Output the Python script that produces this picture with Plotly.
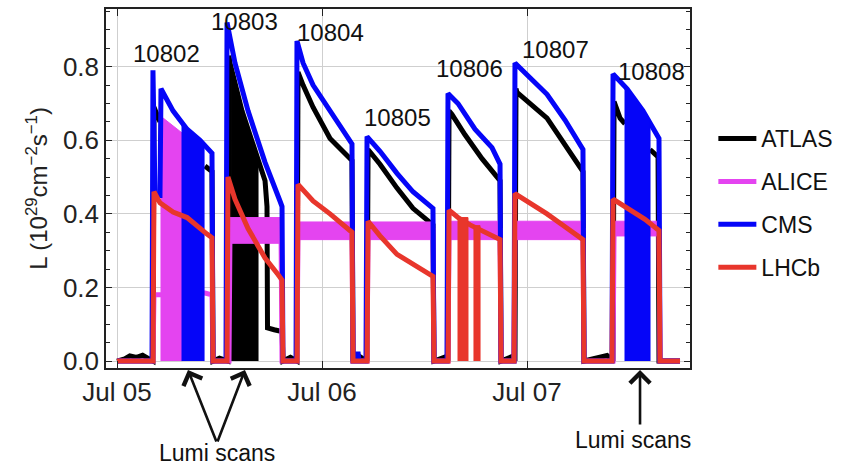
import pandas as pd
import plotly.graph_objects as go

# Time base: hours after 2025-07-05 00:00
T0 = pd.Timestamp("2025-07-05 00:00")

# ---- ATLAS ----  (None where the trace is hidden behind a scan block)
ATLAS_H = [0.0, 0.9, 1.5, 2.3, 3.0, 3.7, 4.21,
           4.33, 5.03, 7.00, 10.30, 10.54, 11.12, 11.24,
           12.0, 12.99,
           13.11, 13.23, 14.63, 16.16, 16.51, 17.33, 17.56, 17.62, 18.40, 19.32, 19.43,
           20.30, 21.07,
           21.19, 21.78, 22.95, 24.94, 27.28, 27.51, 27.63,
           28.21, 29.27,
           29.39, 30.79, 32.78, 34.65, 36.64, 36.99, 37.11,
           38.52, 38.75,
           38.87, 39.22, 40.74, 42.73, 44.25, 44.84, 44.96,
           46.24, 46.59,
           46.71, 46.83, 50.34, 52.45, 54.55, 54.67,
           57.37, 58.07,
           58.19, 58.89, 59.47, 61.00, 62.40, 62.99, 63.34, 63.45, 65.91]
ATLAS_L = [0.0, 0.006, 0.014, 0.01, 0.016, 0.008, 0.0,
           0.69, 0.65, None, 0.53, 0.525, 0.515, 0.0,
           0.008, 0.0,
           0.83, 0.81, 0.68, 0.57, 0.545, 0.49, 0.42, 0.09, 0.085, 0.08, 0.0,
           0.01, 0.0,
           0.785, 0.75, 0.69, 0.605, 0.55, 0.545, 0.0,
           0.015, 0.0,
           0.575, 0.535, 0.47, 0.415, 0.373, 0.37, 0.0,
           0.012, 0.0,
           0.68, 0.67, 0.615, 0.55, 0.51, 0.49, 0.0,
           0.012, 0.0,
           0.74, 0.73, 0.66, 0.585, 0.515, 0.0,
           0.015, 0.0,
           0.705, 0.66, 0.645, None, 0.575, 0.56, 0.555, 0.0, 0.0]
# ATLAS van der Meer scan (fill 10803)
ATLAS_SCAN_H = [13.35, 14.63, 16.16, 16.51]
ATLAS_SCAN_TOP = [0.80, 0.68, 0.57, 0.545]

# ---- ALICE ----
ALICE_H = [0.0, 4.21, 4.33, 5.15, 8.00, 10.19, 10.30, 11.12, 11.24,
           13.11, 13.23, 19.20, 19.32,
           21.07, 21.19, 27.51, 27.63,
           29.27, 29.39, 36.99, 37.11,
           38.75, 38.87, 44.84, 44.96,
           46.48, 46.59, 54.55, 54.67,
           58.07, 58.19, 63.45, 63.57, 65.91]
ALICE_L = [0.0, 0.0, 0.18, 0.18, None, 0.185, 0.185, 0.18, 0.0,
           0.0, 0.355, 0.355, 0.0,
           0.0, 0.355, 0.355, 0.0,
           0.0, 0.355, 0.355, 0.0,
           0.0, 0.355, 0.355, 0.0,
           0.0, 0.355, 0.355, 0.0,
           0.0, 0.36, 0.36, 0.0, 0.0]
ALICE_SCAN_H = [5.15, 7.61]
ALICE_SCAN_TOP = [0.665, 0.62]
# spread of the ALICE readings during each fill
ALICE_BAND_START = [13.23, 21.19, 29.39, 38.87, 46.59, 58.19]
ALICE_BAND_END = [19.20, 27.51, 36.99, 44.84, 54.55, 63.45]
ALICE_BAND_LO = [0.32, 0.33, 0.33, 0.33, 0.33, 0.34]
ALICE_BAND_HI = [0.39, 0.378, 0.378, 0.38, 0.38, 0.38]

# ---- CMS ----
CMS_H = [0.0, 4.10, 4.21, 4.45, 5.03, 5.15, 6.56, 8.20, 9.72, 11.12, 11.24,
         12.76, 12.88, 13.81, 15.34, 17.33, 19.08, 19.32, 19.43,
         20.96, 21.07, 21.78, 22.95, 24.94, 27.51, 27.63,
         28.10, 28.21, 28.33, 29.15, 29.27, 30.79, 32.78, 34.65, 36.99, 37.11,
         38.63, 38.75, 39.92, 41.91, 43.90, 44.84, 44.96,
         46.48, 46.59, 48.35, 50.34, 52.45, 54.55, 54.67,
         57.95, 58.07, 59.71, 61.58, 63.45, 63.57, 65.91]
CMS_L = [0.0, 0.0, 0.79, 0.45, 0.45, 0.74, 0.68, 0.63, 0.60, 0.565, 0.0,
         0.0, 0.92, 0.81, 0.68, 0.54, 0.435, 0.42, 0.0,
         0.0, 0.87, 0.81, 0.75, 0.68, 0.59, 0.0,
         0.0, 0.025, 0.0, 0.0, 0.61, 0.57, 0.51, 0.46, 0.415, 0.0,
         0.0, 0.727, 0.70, 0.63, 0.58, 0.535, 0.0,
         0.0, 0.81, 0.77, 0.725, 0.655, 0.575, 0.0,
         0.0, 0.78, 0.74, 0.68, 0.605, 0.0, 0.0]
CMS_SCAN1_H = [7.61, 8.20, 9.72, 10.19]
CMS_SCAN1_TOP = [0.645, 0.63, 0.60, 0.59]
CMS_SCAN2_H = [59.47, 59.71, 61.58, 62.40]
CMS_SCAN2_TOP = [0.745, 0.74, 0.68, 0.655]

# ---- LHCb ----
LHCB_H = [0.0, 4.21, 4.33, 5.03, 6.56, 8.20, 10.54, 11.12, 11.24,
          12.88, 12.99, 13.81, 15.34, 17.33, 18.85, 19.32, 19.43,
          21.07, 21.19, 22.95, 24.94, 27.28, 27.51, 27.63,
          29.27, 29.39, 30.79, 32.78, 34.65, 36.99, 37.11,
          38.75, 38.87, 39.92, 41.33, 43.08, 44.84, 44.96,
          46.48, 46.59, 48.35, 50.34, 52.45, 54.55, 54.67,
          57.95, 58.07, 60.06, 61.81, 63.45, 63.57, 65.91]
LHCB_L = [0.0, 0.0, 0.46, 0.43, 0.405, 0.39, 0.345, 0.335, 0.0,
          0.0, 0.50, 0.44, 0.36, 0.28, 0.235, 0.22, 0.0,
          0.0, 0.48, 0.435, 0.40, 0.355, 0.35, 0.0,
          0.0, 0.38, 0.34, 0.29, 0.265, 0.23, 0.0,
          0.0, 0.41, 0.39, 0.37, 0.35, 0.33, 0.0,
          0.0, 0.455, 0.43, 0.40, 0.365, 0.33, 0.0,
          0.0, 0.44, 0.41, 0.385, 0.355, 0.0, 0.0]
# LHCb dropouts during fill 10806
LHCB_DROP_START = [39.92, 41.79]
LHCB_DROP_END = [41.09, 42.50]
LHCB_DROP_TOP = [0.39, 0.368]

# Fill numbers and where they are written
FILLS = ["10802", "10803", "10804", "10805", "10806", "10807", "10808"]
FILL_LABEL_H = [5.85, 14.87, 24.94, 32.78, 41.21, 51.39, 62.63]
FILL_LABEL_L = [0.835, 0.922, 0.892, 0.662, 0.795, 0.846, 0.786]

# Luminosity scans pointed at below the axis
SCAN_ARROW_H = [8.31, 14.98, 61.23]

COL = {"ATLAS": "#000000", "ALICE": "#E444F0", "CMS": "#0505F8", "LHCb": "#E8362C"}
LW = 5

for a, b in [(ATLAS_H, ATLAS_L), (ALICE_H, ALICE_L), (CMS_H, CMS_L), (LHCB_H, LHCB_L)]:
    assert len(a) == len(b)


def ts(hours):
    return [T0 + pd.Timedelta(hours=h) for h in hours]


def block(hours, top):
    """Closed polygon from zero up to the given envelope."""
    xs = ts([hours[0]] + list(hours) + [hours[-1]])
    ys = [0.0] + list(top) + [0.0]
    return xs, ys


fig = go.Figure()


def add_line(name, h, v):
    fig.add_trace(go.Scatter(x=ts(h), y=v, mode="lines", name=name, legendgroup=name,
                             line=dict(color=COL[name], width=LW, shape="linear"),
                             connectgaps=False, hoverinfo="skip"))


def add_block(name, h, top, width=1):
    xs, ys = block(h, top)
    fig.add_trace(go.Scatter(x=xs, y=ys, mode="lines", fill="toself", fillcolor=COL[name],
                             line=dict(color=COL[name], width=width), legendgroup=name,
                             showlegend=False, hoverinfo="skip"))


# ATLAS
add_line("ATLAS", ATLAS_H, ATLAS_L)
add_block("ATLAS", ATLAS_SCAN_H, ATLAS_SCAN_TOP)

# ALICE
add_line("ALICE", ALICE_H, ALICE_L)
add_block("ALICE", ALICE_SCAN_H, ALICE_SCAN_TOP)
for s, e, lo, hi in zip(ALICE_BAND_START, ALICE_BAND_END, ALICE_BAND_LO, ALICE_BAND_HI):
    fig.add_trace(go.Scatter(x=ts([s, e, e, s, s]), y=[lo, lo, hi, hi, lo], mode="lines",
                             fill="toself", fillcolor=COL["ALICE"],
                             line=dict(color=COL["ALICE"], width=1), legendgroup="ALICE",
                             showlegend=False, hoverinfo="skip"))

# CMS
add_line("CMS", CMS_H, CMS_L)
add_block("CMS", CMS_SCAN1_H, CMS_SCAN1_TOP)
add_block("CMS", CMS_SCAN2_H, CMS_SCAN2_TOP)

# LHCb
add_line("LHCb", LHCB_H, LHCB_L)
for s, e, top in zip(LHCB_DROP_START, LHCB_DROP_END, LHCB_DROP_TOP):
    add_block("LHCb", [s, e], [top, top])

annotations = []
for label, h, v in zip(FILLS, FILL_LABEL_H, FILL_LABEL_L):
    annotations.append(dict(x=T0 + pd.Timedelta(hours=h), y=v, xref="x", yref="y",
                            text=label, showarrow=False, xanchor="center", yanchor="middle",
                            font=dict(size=24, color="#111")))

# arrows towards the scans
arrow_tails = [(29, 73), (-28, 73), (0, 56)]
for h, (ax, ay) in zip(SCAN_ARROW_H, arrow_tails):
    annotations.append(dict(x=T0 + pd.Timedelta(hours=h), y=-0.0055, xref="x", yref="paper",
                            text="", showarrow=True, ax=ax, ay=ay, axref="pixel", ayref="pixel",
                            arrowhead=4, arrowsize=1.5, arrowwidth=2.6, arrowcolor="#111"))
annotations.append(dict(x=T0 + pd.Timedelta(hours=(217 - 117) * 24 / 205), y=-0.238,
                        xref="x", yref="paper", text="Lumi scans", showarrow=False,
                        xanchor="center", yanchor="middle", font=dict(size=23, color="#111")))
annotations.append(dict(x=T0 + pd.Timedelta(hours=(633 - 117) * 24 / 205), y=-0.2,
                        xref="x", yref="paper", text="Lumi scans", showarrow=False,
                        xanchor="center", yanchor="middle", font=dict(size=23, color="#111")))

fig.update_layout(
    width=846, height=469,
    margin=dict(l=106, r=156, t=7, b=101),
    paper_bgcolor="white", plot_bgcolor="white",
    font=dict(family="Liberation Sans, Arial, sans-serif", size=22, color="#222"),
    showlegend=True,
    legend=dict(x=1.04, y=0.699, xanchor="left", yanchor="top", font=dict(size=23, color="#111"),
                tracegroupgap=10, itemwidth=38, bgcolor="rgba(0,0,0,0)"),
    annotations=annotations,
    xaxis=dict(
        type="date",
        range=[T0 + pd.Timedelta(hours=-1.288), T0 + pd.Timedelta(hours=67.08)],
        tick0=T0, dtick=86400000, tickformat="%b %d",
        ticks="inside", ticklen=7, tickwidth=1.3, tickcolor="#222",
        showline=True, linecolor="#222", linewidth=1.5, mirror="ticks",
        showgrid=True, gridcolor="#cfcfcf", gridwidth=1,
        tickfont=dict(size=26, color="#222"), zeroline=False,
    ),
    yaxis=dict(
        range=[-0.0189, 0.9568], dtick=0.2, tick0=0, tickformat=".1f",
        ticks="inside", ticklen=6, tickwidth=1.3, tickcolor="#222",
        minor=dict(dtick=0.05, ticks="inside", ticklen=4, tickcolor="#222", showgrid=False),
        showline=True, linecolor="#222", linewidth=1.5, mirror="ticks",
        showgrid=True, gridcolor="#cfcfcf", gridwidth=1, zeroline=False,
        tickfont=dict(size=26, color="#222"),
        title=dict(text="L (10<sup>29</sup>cm<sup>\u22122</sup>s<sup>\u22121</sup>)",
                   font=dict(size=24, color="#222"), standoff=8),
    ),
)

fig.write_html("out.html")
